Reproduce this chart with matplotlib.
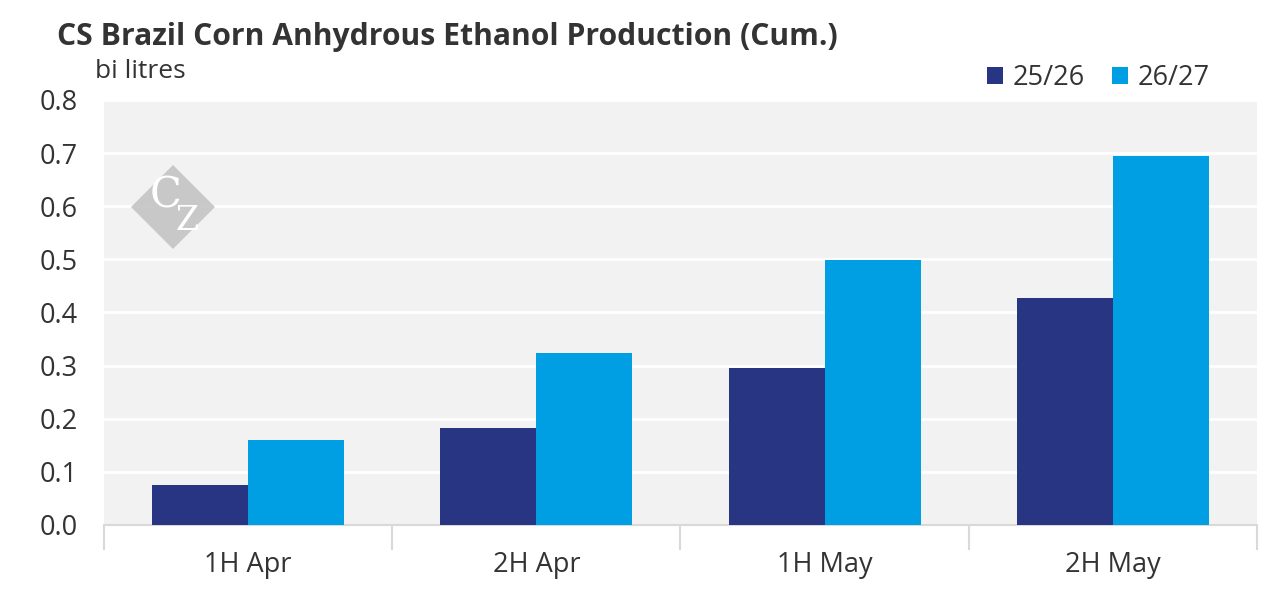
import matplotlib.pyplot as plt
import matplotlib.patches as mpatches
import numpy as np

plt.rcParams['font.family'] = ['Open Sans', 'DejaVu Sans']

categories = ['1H Apr', '2H Apr', '1H May', '2H May']
series_names = ['25/26', '26/27']
vals_2526 = [0.075, 0.183, 0.296, 0.427]
vals_2627 = [0.160, 0.324, 0.499, 0.695]
yticks = [0.0, 0.1, 0.2, 0.3, 0.4, 0.5, 0.6, 0.7, 0.8]

dark = '#283583'
light = '#009fe3'

fig = plt.figure(figsize=(12.79, 6.07), dpi=100)
ax = fig.add_axes([0.0813, 0.1351, 0.9015, 0.7002])
ax.set_facecolor('#f2f2f2')

x = np.arange(len(categories))
w = 1 / 3
ax.bar(x - w / 2, vals_2526, w, color=dark, label=series_names[0], zorder=3)
ax.bar(x + w / 2, vals_2627, w, color=light, label=series_names[1], zorder=3)

ax.set_xlim(-0.5, len(categories) - 0.5)
ax.set_ylim(0, 0.8)
ax.set_yticks(yticks)
ax.set_yticklabels([f'{v:.1f}' for v in yticks])
ax.yaxis.grid(True, color='white', linewidth=2, zorder=1)
ax.set_axisbelow(True)

ax.set_xticks(x)
ax.set_xticklabels(categories)
ax.set_xticks(np.arange(-0.5, len(categories)), minor=True)
ax.tick_params(axis='x', which='major', length=0, pad=19, labelsize=19.5, colors='#333333')
ax.tick_params(axis='x', which='minor', length=18, color='#d9d9d9', width=1.5)
ax.tick_params(axis='y', length=0, pad=19, labelsize=19.5, colors='#333333')
for s in ['top', 'right', 'left']:
    ax.spines[s].set_visible(False)
ax.spines['bottom'].set_color('#d9d9d9')
ax.spines['bottom'].set_linewidth(1.5)

fig.text(57 / 1279, 1 - 37 / 607, 'CS Brazil Corn Anhydrous Ethanol Production (Cum.)',
         fontsize=21.7, fontweight='bold', color='#333333', va='center')
fig.text(95 / 1279, 1 - 71 / 607, 'bi litres', fontsize=19, color='#333333', va='center')

leg = fig.legend(loc='center right', bbox_to_anchor=(1229 / 1279, 1 - 78 / 607), ncol=2,
                 frameon=False, fontsize=19.5, handlelength=0.6, handleheight=0.6,
                 handletextpad=0.35, columnspacing=1.0, borderpad=0.2)
for t in leg.get_texts():
    t.set_color('#333333')

# watermark logo
cx, cy, r = 173, 207, 42
pts = [(cx - r, cy), (cx, cy - r), (cx + r, cy), (cx, cy + r)]
diamond = mpatches.Polygon([(px / 1279, 1 - py / 607) for px, py in pts],
                           closed=True, transform=fig.transFigure,
                           facecolor='#c4c4c4', edgecolor='none', alpha=0.9, zorder=5)
fig.patches.append(diamond)
fig.text((cx - 7) / 1279, 1 - (cy - 12) / 607, 'C', fontsize=30, family='serif',
         color='white', ha='center', va='center', zorder=6)
fig.text((cx + 14) / 1279, 1 - (cy + 14) / 607, 'Z', fontsize=24, family='serif',
         color='white', ha='center', va='center', zorder=6)

fig.savefig('out.png', dpi=100)
